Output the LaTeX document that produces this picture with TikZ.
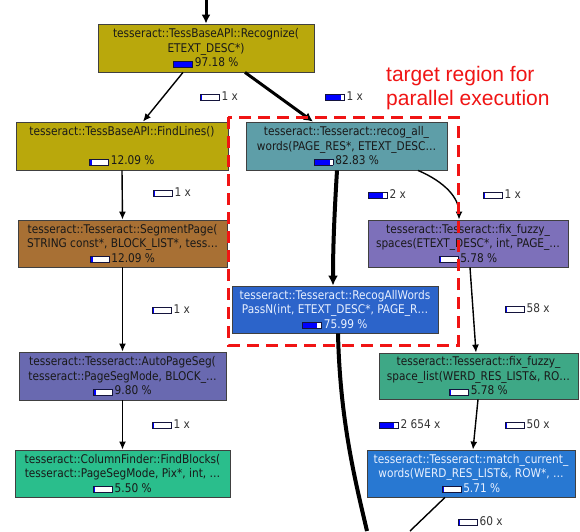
\documentclass[tikz,border=0pt]{standalone}
\usepackage{fontspec}
\setmainfont{DejaVu Sans}
\newfontfamily\nodefont[FakeStretch=0.88]{DejaVu Sans}
\newfontfamily\arialf{Liberation Sans}
\usetikzlibrary{arrows.meta}
\definecolor{olivebox}{RGB}{185,168,12}
\definecolor{tealbox}{RGB}{94,158,168}
\definecolor{brownbox}{RGB}{168,112,52}
\definecolor{purplebox}{RGB}{125,112,186}
\definecolor{bluebox}{RGB}{44,100,202}
\definecolor{slatebox}{RGB}{105,105,176}
\definecolor{greenbox}{RGB}{62,168,134}
\definecolor{mintbox}{RGB}{42,190,140}
\definecolor{skybox}{RGB}{40,120,210}
\definecolor{barline}{RGB}{20,20,60}
\definecolor{boxtext}{RGB}{25,25,25}
\definecolor{lighttext}{RGB}{232,240,255}
\definecolor{redline}{RGB}{240,20,20}
\newcommand{\pbar}[1]{\begingroup\setlength{\fboxsep}{0pt}\setlength{\fboxrule}{0.7pt}\fcolorbox{barline}{white}{\makebox[18pt][l]{\textcolor{blue}{\rule{#1pt}{5.5pt}}}}\endgroup}
\begin{document}
\begin{tikzpicture}[x=1pt,y=-1pt,
  fn/.style={draw=black!75, line width=0.8pt, rectangle, inner sep=0pt, align=center,
    text=boxtext, font=\nodefont\fontsize{12}{14.5}\selectfont},
  cnt/.style={anchor=west, inner sep=0pt, font=\nodefont\fontsize{12}{14.5}\selectfont, text=black!80},
  thinarr/.style={line width=1.4pt, -{Latex[length=8pt,width=7pt]}},
  thickarr/.style={line width=3pt, -{Latex[length=9pt,width=9pt]}},
  heavyarr/.style={line width=4pt, -{Latex[length=10pt,width=10pt]}},
  redbox/.style={draw=redline, line width=3pt, dash pattern=on 12pt off 7pt},
  note/.style={anchor=base west, inner sep=0pt, text=redline, font=\arialf\fontsize{21}{24}\selectfont}
]
\fill[white] (0,0) rectangle (580,531);
\useasboundingbox (0,0) rectangle (580,531);

% nodes
\node[fn, fill=olivebox, minimum width=216pt, minimum height=48pt] (rec) at (206,48)
  {tesseract::TessBaseAPI::Recognize(\\ETEXT\_DESC*)\\\pbar{18}\,97.18 \%};
\node[fn, fill=olivebox, minimum width=212pt, minimum height=48pt] (findl) at (122,146)
  {tesseract::TessBaseAPI::FindLines()\\\mbox{}\\\pbar{2}\,12.09 \%};
\node[fn, fill=tealbox, minimum width=201pt, minimum height=48pt] (recall) at (346.5,146)
  {tesseract::Tesseract::recog\_all\_\\words(PAGE\_RES*, ETEXT\_DESC…\\\pbar{15}\,82.83 \%};
\node[fn, fill=brownbox, minimum width=209pt, minimum height=47pt] (segp) at (122.5,243.5)
  {tesseract::Tesseract::SegmentPage(\\STRING const*, BLOCK\_LIST*, tess…\\\pbar{2}\,12.09 \%};
\node[fn, fill=purplebox, minimum width=200pt, minimum height=47pt] (ffs) at (468,243.5)
  {tesseract::Tesseract::fix\_fuzzy\_\\spaces(ETEXT\_DESC*, int, PAGE\_…\\\pbar{1}\,5.78 \%};
\node[fn, fill=bluebox, text=lighttext, minimum width=206pt, minimum height=47pt] (rawp) at (335,309.5)
  {tesseract::Tesseract::RecogAllWords\\PassN(int, ETEXT\_DESC*, PAGE\_R…\\\pbar{14}\,75.99 \%};
\node[fn, fill=slatebox, minimum width=207pt, minimum height=48pt] (aps) at (122.5,376)
  {tesseract::Tesseract::AutoPageSeg(\\tesseract::PageSegMode, BLOCK\_…\\\pbar{1.5}\,9.80 \%};
\node[fn, fill=greenbox, minimum width=199pt, minimum height=46pt] (ffsl) at (478.5,376)
  {tesseract::Tesseract::fix\_fuzzy\_\\space\_list(WERD\_RES\_LIST\&, RO…\\\pbar{1}\,5.78 \%};
\node[fn, fill=mintbox, minimum width=215pt, minimum height=47pt] (fb) at (122.5,473.5)
  {tesseract::ColumnFinder::FindBlocks(\\tesseract::PageSegMode, Pix*, int, …\\\pbar{1}\,5.50 \%};
\node[fn, fill=skybox, text=lighttext, minimum width=208pt, minimum height=47pt] (mcw) at (471,473.5)
  {tesseract::Tesseract::match\_current\_\\words(WERD\_RES\_LIST\&, ROW*, …\\\pbar{1}\,5.71 \%};

% call-count labels
\node[cnt] (l1) at (200,96) {\pbar{1}\,1 x};
\node[cnt] (l2) at (325,96) {\pbar{15}\,1 x};
\node[cnt] (l3) at (153,192) {\pbar{1}\,1 x};
\node[cnt] (l4) at (368,194) {\pbar{14}\,2 x};
\node[cnt] (l5) at (483,194) {\pbar{1}\,1 x};
\node[cnt] (l6) at (152,309) {\pbar{1}\,1 x};
\node[cnt] (l7) at (505,308) {\pbar{1}\,58 x};
\node[cnt] (l8) at (152,424) {\pbar{1}\,1 x};
\node[cnt] (l9) at (379,424) {\pbar{14}\,2 654 x};
\node[cnt] (l10) at (505,424) {\pbar{1}\,50 x};
\node[cnt] (l11) at (458,521) {\pbar{1}\,60 x};

% free ends
\coordinate (topin) at (206,0);
\coordinate (out1) at (367,531);
\coordinate (out2) at (410,531);

% edges
\draw[thickarr] (topin) -- (rec.north);
\draw[thinarr] ([xshift=-23pt]rec.south) -- ([xshift=21pt]findl.north);
\draw[thickarr] ([xshift=39pt]rec.south) -- ([xshift=-33.5pt]recall.north);
\draw[thinarr] (findl.south) -- (segp.north);
\draw[heavyarr] ([xshift=-9.5pt]recall.south) .. controls (334,220) and (333,250) .. ([xshift=-2pt]rawp.north);
\draw[thinarr] ([xshift=71.5pt]recall.south) .. controls (445,182) and (459,198) .. ([xshift=-9pt]ffs.north);
\draw[thinarr] (segp.south) -- (aps.north);
\draw[thinarr] ([xshift=2pt]ffs.south) -- ([xshift=-2.5pt]ffsl.north);
\draw[thinarr] (aps.south) -- (fb.north);
\draw[thinarr] ([xshift=-0.5pt]ffsl.south) -- ([xshift=2pt]mcw.north);
\draw[line width=4pt] ([xshift=3pt]rawp.south) .. controls (340,420) and (355,480) .. (out1);
\draw[line width=1.4pt] ([xshift=-26pt]mcw.south) -- (out2);

% target region
\draw[redbox] (228,117) rectangle (458,345);
\node[note] (t1) at (386,81) {target region for};
\node[note] (t2) at (386,105) {parallel execution};
\end{tikzpicture}
\end{document}
